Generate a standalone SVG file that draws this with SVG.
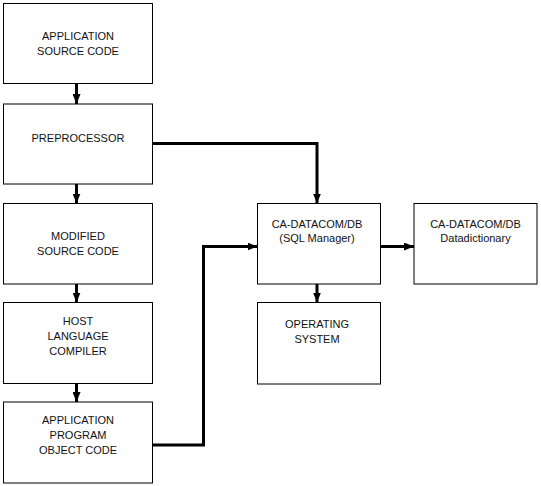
<svg xmlns="http://www.w3.org/2000/svg" width="541" height="486" viewBox="0 0 541 486">
<style>
.box{fill:#fff;stroke:#000;stroke-width:1}
.t{font-family:"Liberation Sans",Arial,sans-serif;font-size:11px;fill:#111;text-anchor:middle}
.c{fill:none;stroke:#000;stroke-width:3;marker-end:url(#ah)}
</style>
<defs>
<marker id="ah" markerUnits="userSpaceOnUse" markerWidth="10" markerHeight="8" refX="10" refY="4" orient="auto">
<path d="M0,0 L10,4 L0,8 z" fill="#000"/>
</marker>
</defs>
<rect width="541" height="486" fill="#fff"/>
<g id="connectors">
<path class="c" d="M76.5,83.5 V104"/>
<path class="c" d="M76.5,184 V203.5"/>
<path class="c" d="M76.5,284 V302.5"/>
<path class="c" d="M76.5,383.5 V402"/>
<path class="c" d="M153,143.5 H317 V203.5"/>
<path class="c" d="M153,445 H203.5 V246.5 H257.5"/>
<path class="c" d="M380.5,246.5 H414"/>
<path class="c" d="M317,284 V302.5"/>
</g>
<g id="app-source">
<rect class="box" x="3.5" y="3.5" width="149" height="80"/>
<text class="t" x="78" y="40">APPLICATION</text>
<text class="t" x="78" y="55">SOURCE  CODE</text>
</g>
<g id="preprocessor">
<rect class="box" x="3.5" y="104" width="149" height="80"/>
<text class="t" x="78" y="141.5">PREPROCESSOR</text>
</g>
<g id="modified">
<rect class="box" x="3.5" y="203.5" width="149" height="80.5"/>
<text class="t" x="78" y="240">MODIFIED</text>
<text class="t" x="78" y="255">SOURCE  CODE</text>
</g>
<g id="compiler">
<rect class="box" x="3.5" y="302.5" width="149" height="81"/>
<text class="t" x="78" y="325">HOST</text>
<text class="t" x="78" y="340">LANGUAGE</text>
<text class="t" x="78" y="355">COMPILER</text>
</g>
<g id="object-code">
<rect class="box" x="3.5" y="402" width="149" height="81"/>
<text class="t" x="78" y="424">APPLICATION</text>
<text class="t" x="78" y="439">PROGRAM</text>
<text class="t" x="78" y="454">OBJECT  CODE</text>
</g>
<g id="sql-manager">
<rect class="box" x="257.5" y="203.5" width="123" height="80.5"/>
<text class="t" x="317" y="228">CA-DATACOM/DB</text>
<text class="t" x="317" y="242">(SQL  Manager)</text>
</g>
<g id="datadictionary">
<rect class="box" x="414" y="203.5" width="123" height="80.5"/>
<text class="t" x="475.5" y="228">CA-DATACOM/DB</text>
<text class="t" x="475.5" y="242">Datadictionary</text>
</g>
<g id="os">
<rect class="box" x="257.5" y="302.5" width="123" height="81.5"/>
<text class="t" x="317" y="328">OPERATING</text>
<text class="t" x="317" y="343">SYSTEM</text>
</g>
</svg>
